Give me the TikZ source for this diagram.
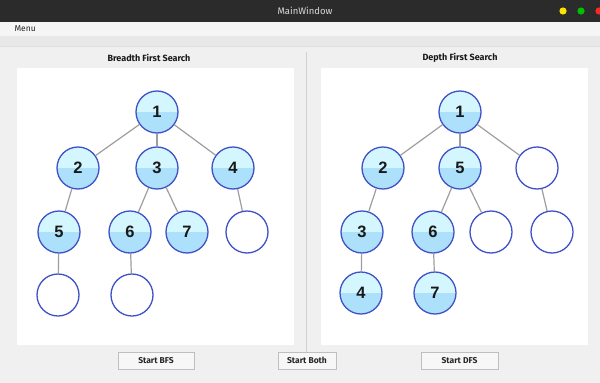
\documentclass[tikz,border=0pt]{standalone}
\usepackage{fontspec}
\setmainfont{Liberation Sans}
\newfontfamily\uifont{Fira Sans}
\definecolor{titlebar}{rgb}{0.17, 0.17, 0.17}
\definecolor{winbg}{rgb}{0.94, 0.94, 0.94}
\definecolor{toolbg}{rgb}{0.91, 0.91, 0.91}
\definecolor{nodeblue}{rgb}{0.25, 0.32, 0.78}
\definecolor{toplight}{rgb}{0.83, 0.97, 1.0}
\definecolor{botblue}{rgb}{0.68, 0.88, 0.98}
\definecolor{edgegray}{rgb}{0.62, 0.62, 0.62}
\usetikzlibrary{positioning}

\begin{document}
\begin{tikzpicture}[x=1pt,y=-1pt,
    visited/.style={circle,draw=nodeblue,line width=1.3pt,minimum size=42pt,inner sep=0pt,
      fill=toplight,font=\fontsize{16.5}{17}\selectfont\bfseries,text=black!90,
      path picture={\fill[botblue] (path picture bounding box.west) rectangle (path picture bounding box.south east);}},
    open/.style={circle,draw=nodeblue,line width=1.3pt,minimum size=42pt,inner sep=0pt,fill=white},
    link/.style={draw=edgegray,line width=1.2pt},
    button/.style={draw=black!25,fill=black!3,minimum width=76pt,minimum height=17pt,inner sep=0pt,
      font=\uifont\fontsize{8.5}{9}\selectfont\bfseries,text=black!85},
    heading/.style={font=\uifont\fontsize{9}{10}\selectfont\bfseries,text=black!90}]
    \useasboundingbox (0,0) rectangle (600,383);

    % window frame
    \fill[color=winbg] (0,0) rectangle (600,383);
    \fill[color=titlebar] (0,0) rectangle (600,22);
    \node[text=black!15,font=\uifont\fontsize{9.5}{10}\selectfont] (title) at (305,11) {MainWindow};
    \fill[color=yellow!85!orange] (563,11) circle (3.6);
    \fill[color=green!75!black] (581,11) circle (3.6);
    \fill[color=red!85] (599,11) circle (3.6);
    \fill[color=black!4] (0,22) rectangle (600,36);
    \node[anchor=west,font=\uifont\fontsize{8.5}{9}\selectfont,text=black!85] (menu) at (11,29) {Menu};
    \fill[color=toolbg] (0,36) rectangle (600,46);
    \draw[color=black!12] (0,46) -- (600,46);

    % panels
    \node[heading] (bfstitle) at (149,58) {Breadth First Search};
    \node[heading] (dfstitle) at (460,58) {Depth First Search};
    \fill[color=white] (17,68) rectangle (294,345);
    \fill[color=white] (321,68) rectangle (588,345);
    \draw[color=black!18,line width=1pt] (306,52) -- (306,352);

    % BFS tree
    \node[visited] (b1) at (157,112) {1};
    \node[visited] (b2) at (78,168) {2};
    \node[visited] (b3) at (157,168) {3};
    \node[visited] (b4) at (233,168) {4};
    \node[visited] (b5) at (59,232) {5};
    \node[visited] (b6) at (130,232) {6};
    \node[visited] (b7) at (187,232) {7};
    \node[open] (b8) at (247,232) {};
    \node[open] (b9) at (58,295) {};
    \node[open] (b10) at (132,295) {};
    \draw[link] (b1) -- (b2);
    \draw[link] (b1) -- (b3);
    \draw[link] (b1) -- (b4);
    \draw[link] (b2) -- (b5);
    \draw[link] (b3) -- (b6);
    \draw[link] (b3) -- (b7);
    \draw[link] (b4) -- (b8);
    \draw[link] (b5) -- (b9);
    \draw[link] (b6) -- (b10);

    % DFS tree
    \node[visited] (d1) at (460,112) {1};
    \node[visited] (d2) at (383,168) {2};
    \node[visited] (d5) at (460,168) {5};
    \node[open] (d8) at (537,168) {};
    \node[visited] (d3) at (362,232) {3};
    \node[visited] (d6) at (433,232) {6};
    \node[open] (d9) at (491,232) {};
    \node[open] (d10) at (552,232) {};
    \node[visited] (d4) at (361,293) {4};
    \node[visited] (d7) at (435,293) {7};
    \draw[link] (d1) -- (d2);
    \draw[link] (d1) -- (d5);
    \draw[link] (d1) -- (d8);
    \draw[link] (d2) -- (d3);
    \draw[link] (d3) -- (d4);
    \draw[link] (d5) -- (d6);
    \draw[link] (d5) -- (d9);
    \draw[link] (d6) -- (d7);
    \draw[link] (d8) -- (d10);

    % buttons
    \node[button] (bfsbtn) at (156,360.5) {Start BFS};
    \node[button,minimum width=58pt] (bothbtn) at (307,360.5) {Start Both};
    \node[button,minimum width=77pt] (dfsbtn) at (459.5,360.5) {Start DFS};
  \end{tikzpicture}
\end{document}
